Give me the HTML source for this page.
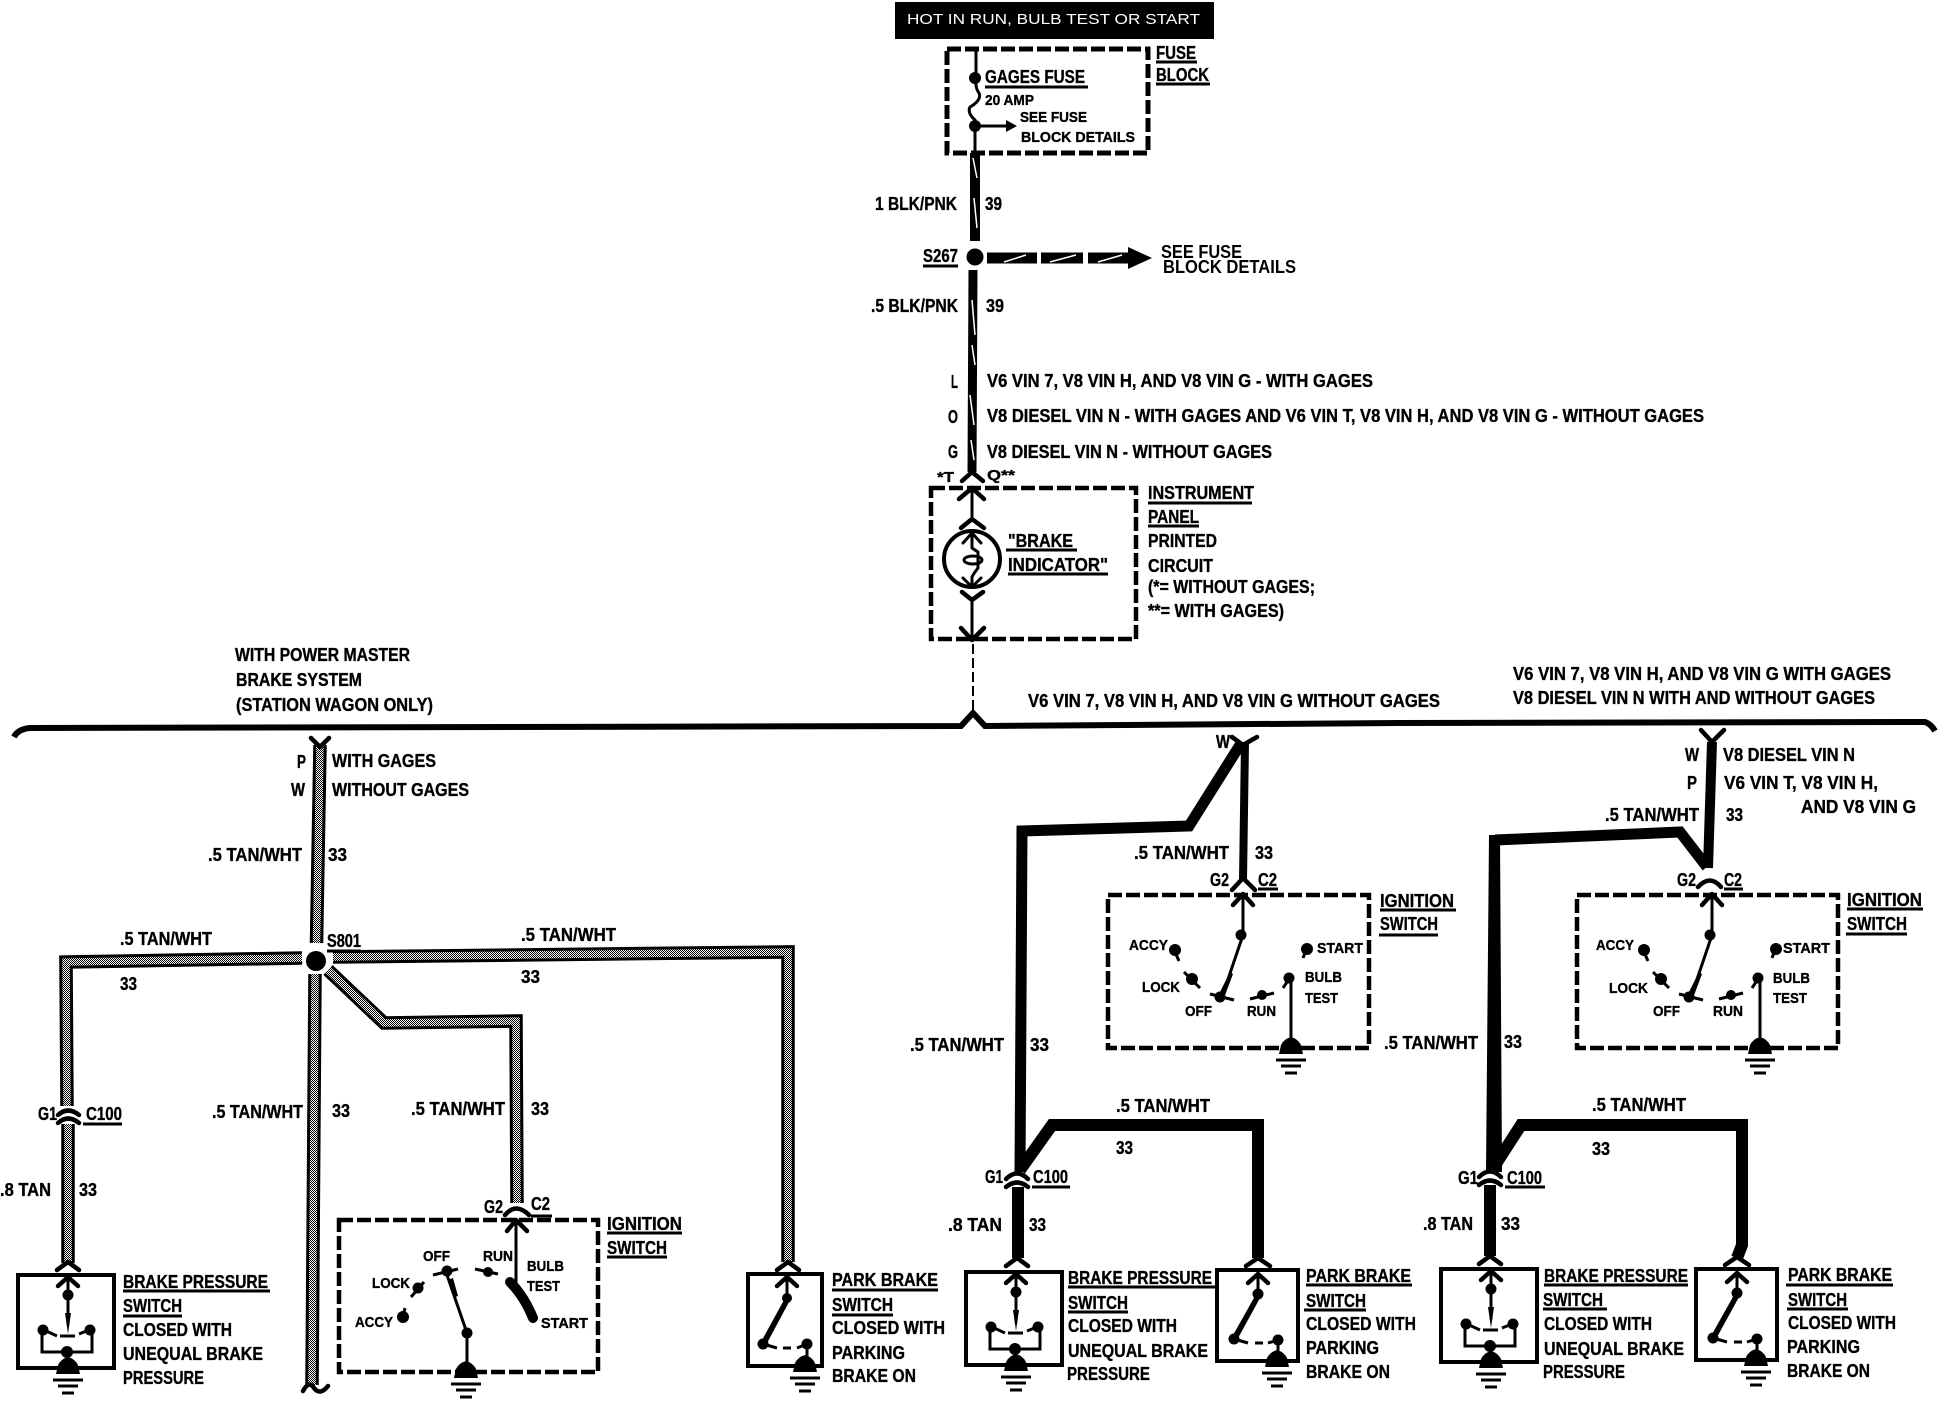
<!DOCTYPE html>
<html><head><meta charset="utf-8"><style>
html,body{margin:0;padding:0;background:#fff}
svg{display:block}
text{font:bold 18px "Liberation Sans",sans-serif;fill:#000;stroke:#000;stroke-width:.35px}
.s{font-size:15px}
.w{stroke:#000;stroke-width:13.5;fill:none}
.i{stroke:url(#st);stroke-width:7.5;fill:none}
.k{stroke:#000;fill:none;stroke-linejoin:miter}
.h{stroke:#000;stroke-width:4.5;fill:none;stroke-linecap:round;stroke-linejoin:round}
.u{stroke:#000;stroke-width:3}
.d{stroke:#000;stroke-width:4.5;fill:none;stroke-dasharray:14 4}
.f{stroke:#000;stroke-width:3;fill:none}
.sl{stroke:#fff;stroke-width:1.5}
</style></head><body>
<svg xmlns="http://www.w3.org/2000/svg" width="1942" height="1408" viewBox="0 0 1942 1408">
<defs>
<pattern id="st" width="2" height="2" patternUnits="userSpaceOnUse"><rect width="2" height="2" fill="#fff"/><rect width="1" height="1" fill="#000"/><rect x="1" y="1" width="1" height="1" fill="#000"/></pattern>
<g id="gnd"><path d="M-12,6 L-10,-3 Q-7,-9 0,-11 Q7,-9 10,-3 L12,6 Z" fill="#000"/><path d="M-15,12H15M-10,18H10M-6,25H6" stroke="#000" stroke-width="3"/></g>
<g id="bp">
<rect x="966" y="1272" width="96" height="93" fill="none" stroke="#000" stroke-width="4"/>
<path class="h" d="M1006,1283 L1016,1274 L1026,1283"/>
<path class="f" d="M1016,1275V1322"/>
<circle cx="1016" cy="1292" r="5.5"/>
<path d="M1013,1310 L1019,1310 L1016,1331 Z"/>
<path class="f" d="M1008,1333H1023"/>
<circle cx="991" cy="1327" r="5.5"/><circle cx="1038" cy="1327" r="5.5"/>
<path class="f" d="M992,1327 L1005,1333M1037,1327 L1027,1331"/>
<path class="f" d="M990,1330V1349H1040V1330"/>
<circle cx="1015" cy="1349" r="6"/>
<use href="#gnd" x="1016" y="1365"/>
</g>
<g id="pb">
<rect x="1217" y="1270" width="81" height="91" fill="none" stroke="#000" stroke-width="4"/>
<path class="h" d="M1248,1283 L1258,1274 L1268,1283"/>
<path class="f" d="M1258,1275V1294"/>
<circle cx="1258" cy="1294" r="5.5"/>
<path d="M1255,1296 L1260,1298 L1237,1340 L1232,1337 Z"/>
<circle cx="1234" cy="1339" r="5.5"/><circle cx="1278" cy="1340" r="5.5"/>
<path class="f" d="M1234,1339 L1248,1343M1255,1343H1263M1278,1340 L1268,1343M1278,1340V1360"/>
<use href="#gnd" x="1277" y="1361"/>
</g>
<g id="ig">
<rect x="1108" y="895" width="261" height="153" class="d"/>
<path class="h" d="M1233,905 L1243,894 L1253,905"/>
<path class="f" d="M1243,895V935 L1222,997"/>
<circle cx="1241" cy="935" r="5.5"/>
<path d="M1230,972 L1233,974 L1224,998 L1218,996 Z"/>
<circle cx="1220" cy="997" r="5.5"/><path class="f" d="M1210,994 L1234,1000"/>
<circle cx="1262" cy="995" r="5"/><path class="f" d="M1250,999 L1274,993"/>
<circle cx="1289" cy="978" r="5.5"/><path class="f" d="M1283,988 L1291,976M1291,980V1045"/>
<circle cx="1307" cy="949" r="6"/><path class="f" d="M1303,958 L1306,950"/>
<circle cx="1175" cy="950" r="6"/><path class="f" d="M1175,952 L1179,961"/>
<circle cx="1192" cy="979" r="6"/><path class="f" d="M1184,972 L1200,988"/>
<use href="#gnd" x="1291" y="1048"/>
</g>
</defs>
<rect width="1942" height="1408" fill="#fff"/>

<!-- TOP -->
<rect x="895" y="2" width="319" height="37" fill="#000"/>
<text x="907" y="24" textLength="293" lengthAdjust="spacingAndGlyphs" style="font:15px 'Liberation Sans',sans-serif;fill:#fff;stroke:none">HOT IN RUN, BULB TEST OR START</text>
<rect x="947" y="49" width="201" height="104" class="d" style="stroke-width:5"/>
<path class="f" d="M976,49V78 Q975,88 979,93 Q982,100 970,107 Q967,113 975,120V153M975,126H1012"/>
<path d="M1006,120 L1017,126 L1006,132 Z"/>
<circle cx="975" cy="78" r="6"/><circle cx="975" cy="126" r="6"/>
<text x="1156" y="59" textLength="40" lengthAdjust="spacingAndGlyphs">FUSE</text><path class="u" d="M1156,62H1197"/>
<text x="1156" y="81" textLength="53" lengthAdjust="spacingAndGlyphs">BLOCK</text><path class="u" d="M1156,84H1210"/>
<text x="985" y="83" textLength="100" lengthAdjust="spacingAndGlyphs">GAGES FUSE</text><path class="u" d="M985,87H1088"/>
<text class="s" x="985" y="105" textLength="49" lengthAdjust="spacingAndGlyphs">20 AMP</text>
<text class="s" x="1020" y="122" textLength="67" lengthAdjust="spacingAndGlyphs">SEE FUSE</text>
<text class="s" x="1021" y="142" textLength="114" lengthAdjust="spacingAndGlyphs">BLOCK DETAILS</text>
<path class="k" style="stroke-width:10" d="M975,153V241"/>
<path class="sl" d="M973,158 L977,178M974,198 L977,228"/>
<circle cx="975" cy="257" r="8.5"/>
<path class="k" style="stroke-width:9" d="M973,270 L972,472"/>
<path class="sl" d="M972,300 L975,335M972,345 L975,365M970,395 L974,425M971,440 L974,460"/>
<path class="k" style="stroke-width:11" d="M987,258H1037M1041,258H1083M1088,258H1130"/>
<path d="M1128,247 L1152,258 L1128,269 Z"/>
<path class="sl" d="M1004,262 L1026,255M1050,262 L1076,255M1098,262 L1122,255"/>
<text x="875" y="210" textLength="82" lengthAdjust="spacingAndGlyphs">1 BLK/PNK</text>
<text x="985" y="210" textLength="17" lengthAdjust="spacingAndGlyphs">39</text>
<text x="923" y="262" textLength="35" lengthAdjust="spacingAndGlyphs">S267</text><path class="u" d="M923,266H958"/>
<text x="1161" y="258" textLength="81" lengthAdjust="spacingAndGlyphs" style="stroke:none">SEE FUSE</text>
<text x="1163" y="273" textLength="133" lengthAdjust="spacingAndGlyphs" style="stroke:none">BLOCK DETAILS</text>
<text x="871" y="312" textLength="87" lengthAdjust="spacingAndGlyphs">.5 BLK/PNK</text>
<text x="986" y="312" textLength="18" lengthAdjust="spacingAndGlyphs">39</text>
<text x="951" y="388" textLength="7" lengthAdjust="spacingAndGlyphs">L</text>
<text x="987" y="387" textLength="386" lengthAdjust="spacingAndGlyphs">V6 VIN 7, V8 VIN H, AND V8 VIN G - WITH GAGES</text>
<text x="948" y="423" textLength="10" lengthAdjust="spacingAndGlyphs">O</text>
<text x="987" y="422" textLength="717" lengthAdjust="spacingAndGlyphs">V8 DIESEL VIN N - WITH GAGES AND V6 VIN T, V8 VIN H, AND V8 VIN G - WITHOUT GAGES</text>
<text x="948" y="458" textLength="10" lengthAdjust="spacingAndGlyphs">G</text>
<text x="987" y="458" textLength="285" lengthAdjust="spacingAndGlyphs">V8 DIESEL VIN N - WITHOUT GAGES</text>
<text class="s" x="937" y="482" textLength="17" lengthAdjust="spacingAndGlyphs">*T</text>
<text class="s" x="987" y="480" textLength="28" lengthAdjust="spacingAndGlyphs">Q**</text>
<path class="h" d="M962,481 L972,472 L983,481"/>
<!-- instrument panel -->
<rect x="931" y="488" width="205" height="151" class="d"/>
<path class="h" d="M959,499 L972,488 L984,499"/>
<path class="f" d="M972,489V517M972,600V639"/>
<path class="h" d="M961,528 L972,519 L984,528M962,592 L972,600 L983,592M961,628 L972,640 L984,628"/>
<circle cx="972" cy="559" r="28" fill="none" stroke="#000" stroke-width="4"/>
<path class="h" style="stroke-width:3" d="M963,543 L972,533 L981,543M972,535V548 L978,552 L978,568 Q974,573 972,577V585M963,578 L972,587 L981,578"/>
<ellipse cx="973" cy="560" rx="9" ry="4" fill="none" stroke="#000" stroke-width="3"/>
<text x="1008" y="547" textLength="65" lengthAdjust="spacingAndGlyphs">"BRAKE</text><path class="u" d="M1006,550H1077"/>
<text x="1008" y="571" textLength="100" lengthAdjust="spacingAndGlyphs">INDICATOR"</text><path class="u" d="M1008,574H1108"/>
<text x="1148" y="499" textLength="106" lengthAdjust="spacingAndGlyphs">INSTRUMENT</text><path class="u" d="M1148,503H1252"/>
<text x="1148" y="523" textLength="51" lengthAdjust="spacingAndGlyphs">PANEL</text><path class="u" d="M1148,526H1199"/>
<text x="1148" y="547" textLength="69" lengthAdjust="spacingAndGlyphs">PRINTED</text>
<text x="1148" y="572" textLength="65" lengthAdjust="spacingAndGlyphs">CIRCUIT</text>
<text x="1148" y="593" textLength="167" lengthAdjust="spacingAndGlyphs">(*= WITHOUT GAGES;</text>
<text x="1148" y="617" textLength="136" lengthAdjust="spacingAndGlyphs">**= WITH GAGES)</text>
<path d="M973,644V710" stroke="#000" stroke-width="2" stroke-dasharray="10 4" fill="none"/>
<!-- divider -->
<path d="M14,737 Q18,729 30,728 L961,726 L973,713 L985,726 L1400,723 L1925,722 Q1931,724 1935,731" stroke="#000" stroke-width="6" fill="none"/>
<text x="1028" y="707" textLength="412" lengthAdjust="spacingAndGlyphs">V6 VIN 7, V8 VIN H, AND V8 VIN G WITHOUT GAGES</text>
<text x="1513" y="680" textLength="378" lengthAdjust="spacingAndGlyphs">V6 VIN 7, V8 VIN H, AND V8 VIN G WITH GAGES</text>
<text x="1513" y="704" textLength="362" lengthAdjust="spacingAndGlyphs">V8 DIESEL VIN N WITH AND WITHOUT GAGES</text>
<text x="235" y="661" textLength="175" lengthAdjust="spacingAndGlyphs">WITH POWER MASTER</text>
<text x="236" y="686" textLength="126" lengthAdjust="spacingAndGlyphs">BRAKE SYSTEM</text>
<text x="236" y="711" textLength="197" lengthAdjust="spacingAndGlyphs">(STATION WAGON ONLY)</text>

<!-- LEFT SECTION wires -->
<path class="w" d="M320,745 L316.5,943"/><path class="i" d="M320,745 L316.5,943"/>
<path class="w" d="M315,974 L312,1385"/><path class="i" d="M315,974 L312,1385"/>
<path class="w" d="M333,957 L788,952 L788,1262"/><path class="i" d="M333,957 L788,952 L788,1262"/>
<path class="w" d="M302,958 L66,962 L67,1106"/><path class="i" d="M302,958 L66,962 L67,1106"/>
<path class="w" d="M328,970 L384,1023 L516,1021 L517,1203"/><path class="i" d="M328,970 L384,1023 L516,1021 L517,1203"/>
<path class="w" d="M68,1124V1263"/><path class="i" d="M68,1124V1263"/>
<circle cx="316" cy="961" r="13" fill="#fff"/><circle cx="316" cy="961" r="10"/>
<path class="h" d="M311,738 L320,747 L329,738"/>
<path class="h" d="M303,1391 Q309,1380 314,1388 Q320,1396 328,1386"/>
<text x="297" y="768" textLength="9" lengthAdjust="spacingAndGlyphs">P</text>
<text x="291" y="796" textLength="14" lengthAdjust="spacingAndGlyphs">W</text>
<text x="332" y="767" textLength="104" lengthAdjust="spacingAndGlyphs">WITH GAGES</text>
<text x="332" y="796" textLength="137" lengthAdjust="spacingAndGlyphs">WITHOUT GAGES</text>
<text x="208" y="861" textLength="94" lengthAdjust="spacingAndGlyphs">.5 TAN/WHT</text>
<text x="328" y="861" textLength="19" lengthAdjust="spacingAndGlyphs">33</text>
<text x="327" y="947" textLength="34" lengthAdjust="spacingAndGlyphs">S801</text><path class="u" d="M327,951H361"/>
<text x="521" y="941" textLength="95" lengthAdjust="spacingAndGlyphs">.5 TAN/WHT</text>
<text x="521" y="983" textLength="19" lengthAdjust="spacingAndGlyphs">33</text>
<text x="120" y="945" textLength="92" lengthAdjust="spacingAndGlyphs">.5 TAN/WHT</text>
<text x="120" y="990" textLength="17" lengthAdjust="spacingAndGlyphs">33</text>
<text x="212" y="1118" textLength="91" lengthAdjust="spacingAndGlyphs">.5 TAN/WHT</text>
<text x="332" y="1117" textLength="18" lengthAdjust="spacingAndGlyphs">33</text>
<text x="411" y="1115" textLength="94" lengthAdjust="spacingAndGlyphs">.5 TAN/WHT</text>
<text x="531" y="1115" textLength="18" lengthAdjust="spacingAndGlyphs">33</text>
<text x="0" y="1196" textLength="51" lengthAdjust="spacingAndGlyphs">.8 TAN</text>
<text x="79" y="1196" textLength="18" lengthAdjust="spacingAndGlyphs">33</text>
<text x="38" y="1120" textLength="19" lengthAdjust="spacingAndGlyphs">G1</text>
<text x="86" y="1120" textLength="36" lengthAdjust="spacingAndGlyphs">C100</text><path class="u" d="M83,1124H122"/>
<path class="h" d="M58,1115 Q68,1106 79,1115M58,1123 Q68,1114 79,1123M57,1270 L68,1262 L79,1270"/>
<use href="#bp" x="-948" y="3"/>
<text x="123" y="1288" textLength="145" lengthAdjust="spacingAndGlyphs">BRAKE PRESSURE</text><path class="u" d="M123,1291H270"/>
<text x="123" y="1312" textLength="59" lengthAdjust="spacingAndGlyphs">SWITCH</text><path class="u" d="M123,1316H182"/>
<text x="123" y="1336" textLength="109" lengthAdjust="spacingAndGlyphs">CLOSED WITH</text>
<text x="123" y="1360" textLength="140" lengthAdjust="spacingAndGlyphs">UNEQUAL BRAKE</text>
<text x="123" y="1384" textLength="81" lengthAdjust="spacingAndGlyphs">PRESSURE</text>

<!-- left ignition -->
<rect x="339" y="1220" width="259" height="152" class="d"/>
<path class="h" d="M505,1215 Q516,1202 529,1215"/>
<path class="h" d="M507,1231 L516,1220 L527,1231"/>
<path class="f" d="M516,1221V1283"/>
<path d="M510,1282 Q524,1296 533,1318" stroke="#000" stroke-width="10" fill="none" stroke-linecap="round"/>
<text x="484" y="1213" textLength="19" lengthAdjust="spacingAndGlyphs">G2</text>
<text x="531" y="1210" textLength="19" lengthAdjust="spacingAndGlyphs">C2</text><path class="u" d="M531,1216H552"/>
<text class="s" x="527" y="1271" textLength="37" lengthAdjust="spacingAndGlyphs">BULB</text>
<text class="s" x="527" y="1291" textLength="33" lengthAdjust="spacingAndGlyphs">TEST</text>
<text class="s" x="541" y="1328" textLength="47" lengthAdjust="spacingAndGlyphs">START</text>
<text class="s" x="423" y="1261" textLength="27" lengthAdjust="spacingAndGlyphs">OFF</text>
<text class="s" x="483" y="1261" textLength="30" lengthAdjust="spacingAndGlyphs">RUN</text>
<text class="s" x="372" y="1288" textLength="38" lengthAdjust="spacingAndGlyphs">LOCK</text>
<text class="s" x="355" y="1327" textLength="38" lengthAdjust="spacingAndGlyphs">ACCY</text>
<circle cx="447" cy="1271" r="5.5"/><path class="f" d="M433,1275 L458,1269M447,1275 L467,1333V1362"/>
<path d="M448,1280 L453,1278 L458,1296 L455,1297 Z"/>
<circle cx="488" cy="1272" r="5"/><path class="f" d="M475,1269 L498,1274"/>
<circle cx="418" cy="1288" r="5.5"/><path class="f" d="M411,1297 L424,1282"/>
<circle cx="403" cy="1317" r="6"/><path class="f" d="M403,1317 L405,1308"/>
<circle cx="467" cy="1333" r="5.5"/>
<use href="#gnd" x="466" y="1372"/>
<text x="607" y="1230" textLength="75" lengthAdjust="spacingAndGlyphs">IGNITION</text><path class="u" d="M607,1233H682"/>
<text x="607" y="1254" textLength="60" lengthAdjust="spacingAndGlyphs">SWITCH</text><path class="u" d="M607,1257H667"/>

<!-- left park brake -->
<path class="h" d="M777,1270 L788,1262 L799,1270"/>
<rect x="748" y="1274" width="74" height="92" fill="none" stroke="#000" stroke-width="4"/>
<path class="h" d="M777,1286 L787,1277 L797,1286"/>
<path class="f" d="M787,1278V1298"/>
<circle cx="787" cy="1298" r="5"/>
<path d="M784,1300 L789,1302 L766,1345 L761,1342 Z"/>
<circle cx="763" cy="1344" r="5.5"/><circle cx="807" cy="1344" r="5.5"/>
<path class="f" d="M763,1344 L777,1348M783,1348H791M807,1344 L797,1348M807,1344V1366"/>
<use href="#gnd" x="805" y="1366"/>
<text x="832" y="1286" textLength="106" lengthAdjust="spacingAndGlyphs">PARK BRAKE</text><path class="u" d="M832,1290H938"/>
<text x="832" y="1311" textLength="61" lengthAdjust="spacingAndGlyphs">SWITCH</text><path class="u" d="M832,1315H893"/>
<text x="832" y="1334" textLength="113" lengthAdjust="spacingAndGlyphs">CLOSED WITH</text>
<text x="832" y="1359" textLength="73" lengthAdjust="spacingAndGlyphs">PARKING</text>
<text x="832" y="1382" textLength="84" lengthAdjust="spacingAndGlyphs">BRAKE ON</text>

<!-- MIDDLE SECTION -->
<path class="k" style="stroke-width:8" d="M1245,742 L1243,880"/>
<path class="k" style="stroke-width:11" d="M1240,745 L1189,826 L1022,831 L1020,1172"/>
<path class="k" style="stroke-width:12" d="M1020,1170 L1052,1125 L1258,1125 L1258,1258"/>
<path class="k" style="stroke-width:12" d="M1018,1187V1258"/>
<path class="h" d="M1232,737 L1243,745 L1257,737"/>
<text x="1216" y="748" textLength="14" lengthAdjust="spacingAndGlyphs">W</text>
<text x="1134" y="859" textLength="95" lengthAdjust="spacingAndGlyphs">.5 TAN/WHT</text>
<text x="1255" y="859" textLength="18" lengthAdjust="spacingAndGlyphs">33</text>
<text x="910" y="1051" textLength="94" lengthAdjust="spacingAndGlyphs">.5 TAN/WHT</text>
<text x="1030" y="1051" textLength="19" lengthAdjust="spacingAndGlyphs">33</text>
<text x="1116" y="1112" textLength="94" lengthAdjust="spacingAndGlyphs">.5 TAN/WHT</text>
<text x="1116" y="1154" textLength="17" lengthAdjust="spacingAndGlyphs">33</text>
<path class="h" d="M1232,890 L1243,878 L1255,890"/>
<use href="#ig"/>
<text x="1210" y="886" textLength="19" lengthAdjust="spacingAndGlyphs">G2</text>
<text x="1258" y="886" textLength="19" lengthAdjust="spacingAndGlyphs">C2</text><path class="u" d="M1258,889H1278"/>
<text class="s" x="1129" y="950" textLength="39" lengthAdjust="spacingAndGlyphs">ACCY</text>
<text class="s" x="1142" y="992" textLength="38" lengthAdjust="spacingAndGlyphs">LOCK</text>
<text class="s" x="1185" y="1016" textLength="27" lengthAdjust="spacingAndGlyphs">OFF</text>
<text class="s" x="1247" y="1016" textLength="29" lengthAdjust="spacingAndGlyphs">RUN</text>
<text class="s" x="1305" y="982" textLength="37" lengthAdjust="spacingAndGlyphs">BULB</text>
<text class="s" x="1305" y="1003" textLength="33" lengthAdjust="spacingAndGlyphs">TEST</text>
<text class="s" x="1317" y="953" textLength="46" lengthAdjust="spacingAndGlyphs">START</text>
<text x="1380" y="907" textLength="74" lengthAdjust="spacingAndGlyphs">IGNITION</text><path class="u" d="M1380,910H1456"/>
<text x="1380" y="930" textLength="58" lengthAdjust="spacingAndGlyphs">SWITCH</text><path class="u" d="M1379,935H1438"/>
<path class="h" d="M1006,1179 Q1017,1168 1028,1179M1006,1187 Q1017,1178 1028,1187M1006,1266 L1017,1258 L1028,1266M1246,1266 L1258,1258 L1270,1266"/>
<use href="#bp"/>
<use href="#pb"/>
<text x="985" y="1183" textLength="18" lengthAdjust="spacingAndGlyphs">G1</text>
<text x="1033" y="1183" textLength="35" lengthAdjust="spacingAndGlyphs">C100</text><path class="u" d="M1032,1187H1070"/>
<text x="948" y="1231" textLength="54" lengthAdjust="spacingAndGlyphs">.8 TAN</text>
<text x="1029" y="1231" textLength="17" lengthAdjust="spacingAndGlyphs">33</text>
<text x="1068" y="1284" textLength="144" lengthAdjust="spacingAndGlyphs">BRAKE PRESSURE</text><path class="u" d="M1068,1287H1217"/>
<text x="1068" y="1309" textLength="60" lengthAdjust="spacingAndGlyphs">SWITCH</text><path class="u" d="M1068,1312H1128"/>
<text x="1068" y="1332" textLength="109" lengthAdjust="spacingAndGlyphs">CLOSED WITH</text>
<text x="1068" y="1357" textLength="140" lengthAdjust="spacingAndGlyphs">UNEQUAL BRAKE</text>
<text x="1067" y="1380" textLength="83" lengthAdjust="spacingAndGlyphs">PRESSURE</text>
<text x="1306" y="1282" textLength="105" lengthAdjust="spacingAndGlyphs">PARK BRAKE</text><path class="u" d="M1306,1285H1412"/>
<text x="1306" y="1307" textLength="60" lengthAdjust="spacingAndGlyphs">SWITCH</text><path class="u" d="M1304,1310H1366"/>
<text x="1306" y="1330" textLength="110" lengthAdjust="spacingAndGlyphs">CLOSED WITH</text>
<text x="1306" y="1354" textLength="73" lengthAdjust="spacingAndGlyphs">PARKING</text>
<text x="1306" y="1378" textLength="84" lengthAdjust="spacingAndGlyphs">BRAKE ON</text>

<!-- RIGHT SECTION -->
<path class="k" style="stroke-width:10" d="M1712,742 L1708,868"/>
<path class="k" style="stroke-width:11" d="M1707,867 L1680,832 L1495,840"/>
<path d="M1489,835H1500L1502,1172H1486Z"/>
<path class="k" style="stroke-width:12" d="M1492,1170 L1521,1125 L1742,1125 L1742,1245 L1737,1258"/>
<path class="k" style="stroke-width:12" d="M1490,1185V1256"/>
<path class="h" d="M1701,730 L1712,742 L1724,730"/>
<text x="1685" y="761" textLength="14" lengthAdjust="spacingAndGlyphs">W</text>
<text x="1687" y="789" textLength="10" lengthAdjust="spacingAndGlyphs">P</text>
<text x="1723" y="761" textLength="132" lengthAdjust="spacingAndGlyphs">V8 DIESEL VIN N</text>
<text x="1724" y="789" textLength="154" lengthAdjust="spacingAndGlyphs">V6 VIN T, V8 VIN H,</text>
<text x="1801" y="813" textLength="115" lengthAdjust="spacingAndGlyphs">AND V8 VIN  G</text>
<text x="1605" y="821" textLength="94" lengthAdjust="spacingAndGlyphs">.5 TAN/WHT</text>
<text x="1726" y="821" textLength="17" lengthAdjust="spacingAndGlyphs">33</text>
<path class="h" d="M1698,887 Q1710,874 1721,887"/>
<use href="#ig" x="469"/>
<text x="1677" y="886" textLength="19" lengthAdjust="spacingAndGlyphs">G2</text>
<text x="1724" y="886" textLength="18" lengthAdjust="spacingAndGlyphs">C2</text><path class="u" d="M1724,889H1743"/>
<text class="s" x="1596" y="950" textLength="38" lengthAdjust="spacingAndGlyphs">ACCY</text>
<text class="s" x="1609" y="993" textLength="39" lengthAdjust="spacingAndGlyphs">LOCK</text>
<text class="s" x="1653" y="1016" textLength="27" lengthAdjust="spacingAndGlyphs">OFF</text>
<text class="s" x="1713" y="1016" textLength="30" lengthAdjust="spacingAndGlyphs">RUN</text>
<text class="s" x="1773" y="983" textLength="37" lengthAdjust="spacingAndGlyphs">BULB</text>
<text class="s" x="1773" y="1003" textLength="34" lengthAdjust="spacingAndGlyphs">TEST</text>
<text class="s" x="1783" y="953" textLength="47" lengthAdjust="spacingAndGlyphs">START</text>
<text x="1847" y="906" textLength="75" lengthAdjust="spacingAndGlyphs">IGNITION</text><path class="u" d="M1847,909H1923"/>
<text x="1847" y="930" textLength="60" lengthAdjust="spacingAndGlyphs">SWITCH</text><path class="u" d="M1846,934H1907"/>
<text x="1384" y="1049" textLength="94" lengthAdjust="spacingAndGlyphs">.5 TAN/WHT</text>
<text x="1504" y="1048" textLength="18" lengthAdjust="spacingAndGlyphs">33</text>
<text x="1592" y="1111" textLength="94" lengthAdjust="spacingAndGlyphs">.5 TAN/WHT</text>
<text x="1592" y="1155" textLength="18" lengthAdjust="spacingAndGlyphs">33</text>
<path class="h" d="M1479,1177 Q1490,1166 1501,1177M1479,1185 Q1490,1176 1501,1185M1479,1264 L1490,1256 L1501,1264M1725,1265 L1737,1257 L1749,1265"/>
<use href="#bp" x="475" y="-3"/>
<use href="#pb" x="479" y="-1"/>
<text x="1458" y="1184" textLength="20" lengthAdjust="spacingAndGlyphs">G1</text>
<text x="1507" y="1184" textLength="35" lengthAdjust="spacingAndGlyphs">C100</text><path class="u" d="M1505,1187H1545"/>
<text x="1423" y="1230" textLength="50" lengthAdjust="spacingAndGlyphs">.8 TAN</text>
<text x="1501" y="1230" textLength="19" lengthAdjust="spacingAndGlyphs">33</text>
<text x="1544" y="1282" textLength="144" lengthAdjust="spacingAndGlyphs">BRAKE PRESSURE</text><path class="u" d="M1544,1285H1688"/>
<text x="1543" y="1306" textLength="60" lengthAdjust="spacingAndGlyphs">SWITCH</text><path class="u" d="M1543,1309H1607"/>
<text x="1544" y="1330" textLength="108" lengthAdjust="spacingAndGlyphs">CLOSED WITH</text>
<text x="1544" y="1355" textLength="140" lengthAdjust="spacingAndGlyphs">UNEQUAL BRAKE</text>
<text x="1543" y="1378" textLength="82" lengthAdjust="spacingAndGlyphs">PRESSURE</text>
<text x="1788" y="1281" textLength="104" lengthAdjust="spacingAndGlyphs">PARK BRAKE</text><path class="u" d="M1786,1285H1893"/>
<text x="1788" y="1306" textLength="59" lengthAdjust="spacingAndGlyphs">SWITCH</text><path class="u" d="M1787,1309H1848"/>
<text x="1788" y="1329" textLength="108" lengthAdjust="spacingAndGlyphs">CLOSED WITH</text>
<text x="1787" y="1353" textLength="73" lengthAdjust="spacingAndGlyphs">PARKING</text>
<text x="1787" y="1377" textLength="83" lengthAdjust="spacingAndGlyphs">BRAKE ON</text>
</svg>
</body></html>
